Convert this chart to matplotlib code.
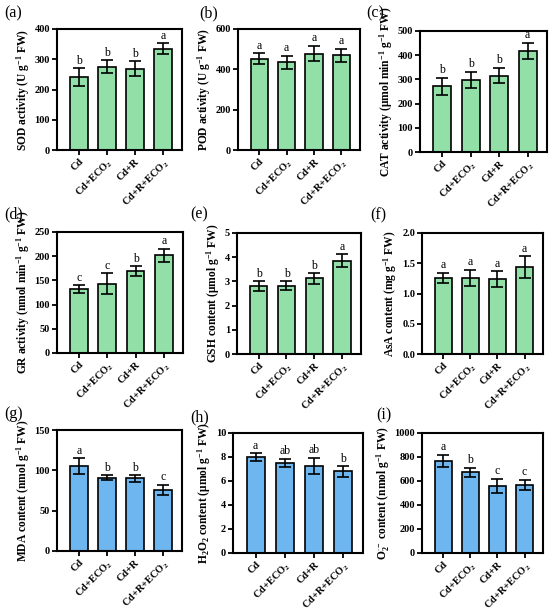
import matplotlib
matplotlib.use("Agg")
import matplotlib.pyplot as plt
import numpy as np

plt.rcParams['font.family'] = ['Liberation Serif', 'DejaVu Serif']
plt.rcParams['mathtext.fontset'] = 'custom'
plt.rcParams['mathtext.rm'] = 'Liberation Serif:bold'
plt.rcParams['mathtext.bf'] = 'Liberation Serif:bold'
plt.rcParams['mathtext.it'] = 'Liberation Serif:bold:italic'

groups = ['Cd', 'Cd+ECO$_2$', 'Cd+R', 'Cd+R+ECO$_2$']

sod = [240, 275, 268, 335]
sod_err = [30, 22, 25, 18]
sod_let = ['b', 'b', 'b', 'a']

pod = [452, 435, 478, 470]
pod_err = [28, 32, 38, 32]
pod_let = ['a', 'a', 'a', 'a']

cat = [272, 298, 316, 418]
cat_err = [35, 33, 32, 33]
cat_let = ['b', 'b', 'b', 'a']

gr = [132, 143, 169, 202]
gr_err = [8, 22, 10, 13]
gr_let = ['c', 'c', 'b', 'a']

gsh = [2.80, 2.82, 3.12, 3.85]
gsh_err = [0.20, 0.18, 0.22, 0.27]
gsh_let = ['b', 'b', 'b', 'a']

asa = [1.26, 1.26, 1.24, 1.44]
asa_err = [0.08, 0.13, 0.13, 0.18]
asa_let = ['a', 'a', 'a', 'a']

mda = [105, 91, 90, 76]
mda_err = [10, 3, 4, 6]
mda_let = ['a', 'b', 'b', 'c']

h2o2 = [8.0, 7.5, 7.25, 6.8]
h2o2_err = [0.3, 0.35, 0.7, 0.45]
h2o2_let = ['a', 'ab', 'ab', 'b']

o2 = [770, 672, 562, 568]
o2_err = [50, 38, 58, 42]
o2_let = ['a', 'b', 'c', 'c']

green = '#92e0a8'
blue = '#6db6f0'

# (tag, values, errors, letters, ylabel, ymax, ystep, yfmt, colour, box px [l, t, r, b], tag px)
panels = [
    ('(a)', sod, sod_err, sod_let, r'SOD activity (U g$^{-1}$ FW)', 400, 100, '%d', green, (57, 29, 182, 150), (4, 13)),
    ('(b)', pod, pod_err, pod_let, r'POD activity (U g$^{-1}$ FW)', 600, 200, '%d', green, (238, 29, 360, 150), (199, 13)),
    ('(c)', cat, cat_err, cat_let, r'CAT activity (μmol min$^{-1}$ g$^{-1}$ FW)', 500, 100, '%d', green, (420, 31, 547, 152), (366, 13)),
    ('(d)', gr, gr_err, gr_let, r'GR activity (nmol min$^{-1}$ g$^{-1}$ FW)', 250, 50, '%d', green, (57, 232, 183, 353), (4, 214)),
    ('(e)', gsh, gsh_err, gsh_let, r'GSH content (μmol g$^{-1}$ FW)', 5, 1, '%d', green, (237, 233, 361, 354), (190, 214)),
    ('(f)', asa, asa_err, asa_let, r'AsA content (mg g$^{-1}$ FW)', 2.0, 0.5, '%.1f', green, (422, 233, 543, 354), (370, 215)),
    ('(g)', mda, mda_err, mda_let, r'MDA content (nmol g$^{-1}$ FW)', 150, 50, '%d', blue, (57, 430, 182, 551), (4, 414)),
    ('(h)', h2o2, h2o2_err, h2o2_let, r'H$_2$O$_2$ content (μmol g$^{-1}$ FW)', 10, 2, '%d', blue, (233, 433, 363, 553), (190, 417)),
    ('(i)', o2, o2_err, o2_let, r'O$_2^{\cdot-}$ content (nmol g$^{-1}$ FW)', 1000, 200, '%d', blue, (422, 433, 543, 553), (376, 415)),
]

W, H = 550, 611
fig = plt.figure(figsize=(W / 100, H / 100), dpi=100)

x = np.arange(len(groups))
for tag, vals, errs, lets, ylab, ymax, ystep, fmt, col, box, tpos in panels:
    l, t, r, b = box
    ax = fig.add_axes([l / W, 1 - b / H, (r - l) / W, (b - t) / H])
    ax.bar(x, vals, width=0.63, color=col, edgecolor='black', linewidth=1.2, zorder=2)
    ax.errorbar(x, vals, yerr=errs, fmt='none', ecolor='black', elinewidth=1.2,
                capsize=4, capthick=1.2, zorder=3)
    for xi, v, e, lt in zip(x, vals, errs, lets):
        ax.text(xi, v + e + ymax * 0.012, lt, ha='center', va='bottom', fontsize=8.5)
    ax.set_xlim(-0.78, 3.68)
    ax.set_ylim(0, ymax)
    ax.set_yticks(np.arange(0, ymax + ystep / 2, ystep))
    ax.yaxis.set_major_formatter(matplotlib.ticker.FormatStrFormatter(fmt))
    ax.set_xticks(x)
    ax.set_xticklabels(groups, rotation=45, ha='right', rotation_mode='anchor',
                       fontsize=7.5, fontweight='bold')
    for lab in ax.get_yticklabels():
        lab.set_fontweight('bold')
        lab.set_fontsize(7.5)
    ax.tick_params(width=1.3, length=3.5, pad=1.5)
    for s in ax.spines.values():
        s.set_linewidth(1.5)
    ax.set_ylabel(ylab, fontsize=8.3, fontweight='bold', labelpad=2)
    fig.text(tpos[0] / W, 1 - tpos[1] / H, tag, fontsize=11.5, va='center', ha='left')

fig.savefig('out.png', dpi=100)
plt.close(fig)
